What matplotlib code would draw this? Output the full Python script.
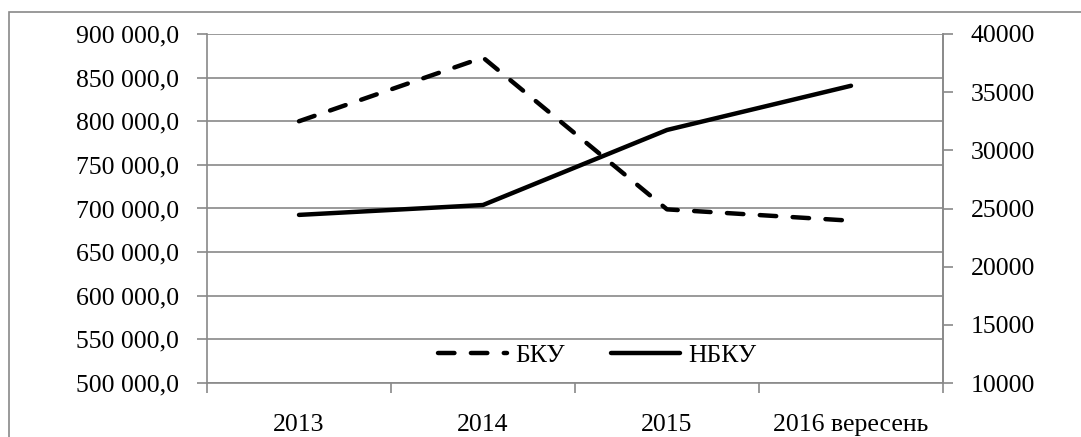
import numpy as np
import matplotlib.pyplot as plt
from matplotlib.patches import Rectangle
from matplotlib.ticker import FuncFormatter

# --- Data ---
years = ["2013", "2014", "2015", "2016 вересень"]
bku = [800000, 873000, 699000, 686000]      # left axis
nbku = [24450, 25300, 31750, 35550]         # right axis

plt.rcParams['font.family'] = ['Liberation Serif', 'DejaVu Serif']
plt.rcParams['font.size'] = 18.5

grid_c = '#898989'

fig = plt.figure(figsize=(10.81, 4.37), dpi=100)
# outer frame
fig.patches.append(Rectangle((9 / 1081, -0.05), 1.1, 1 - 12 / 437 + 0.05,
                             transform=fig.transFigure, fill=False,
                             edgecolor=grid_c, linewidth=1.2))

ax = fig.add_axes([207 / 1081, (437 - 383) / 437, (943 - 207) / 1081, 349 / 437])
ax2 = ax.twinx()

x = np.arange(len(years))
l1, = ax.plot(x, bku, color='black', lw=3.2, dashes=(3.7, 3.7),
              dash_capstyle='round', label='БКУ')
l2, = ax2.plot(x, nbku, color='black', lw=3.2, solid_capstyle='round',
               label='НБКУ')

ax.set_xlim(-0.5, 3.5)
ax.set_ylim(500000, 900000)
ax.set_yticks(np.arange(500000, 900001, 50000))
ax.yaxis.set_major_formatter(FuncFormatter(
    lambda v, p: f"{int(v):,}".replace(",", " ") + ",0"))
ax2.set_ylim(10000, 40000)
ax2.set_yticks(np.arange(10000, 40001, 5000))

ax.set_xticks(x)
ax.set_xticklabels(years)
ax.set_xticks(np.arange(-0.5, 3.6, 1), minor=True)
ax.tick_params(axis='x', which='major', length=0, pad=22)
ax.tick_params(axis='x', which='minor', length=7, width=1.2, color=grid_c)
ax.tick_params(axis='y', length=7, width=1.2, color=grid_c, pad=13)
ax2.tick_params(axis='y', length=7, width=1.2, color=grid_c, pad=13)

ax.grid(axis='y', color=grid_c, lw=1.2)
ax.set_axisbelow(True)
for a in (ax, ax2):
    a.spines['top'].set_visible(False)
    for s in ('left', 'right', 'bottom'):
        a.spines[s].set_color(grid_c)
        a.spines[s].set_linewidth(1.2)
ax2.spines['left'].set_visible(False)
ax2.spines['bottom'].set_visible(False)

leg = ax2.legend([l1, l2], ['БКУ', 'НБКУ'], loc='center', ncol=2,
                 bbox_to_anchor=(0.53, 0.08), frameon=False,
                 handlelength=2.7, columnspacing=1.8, handletextpad=0.3)

fig.savefig('out.png', dpi=100)
